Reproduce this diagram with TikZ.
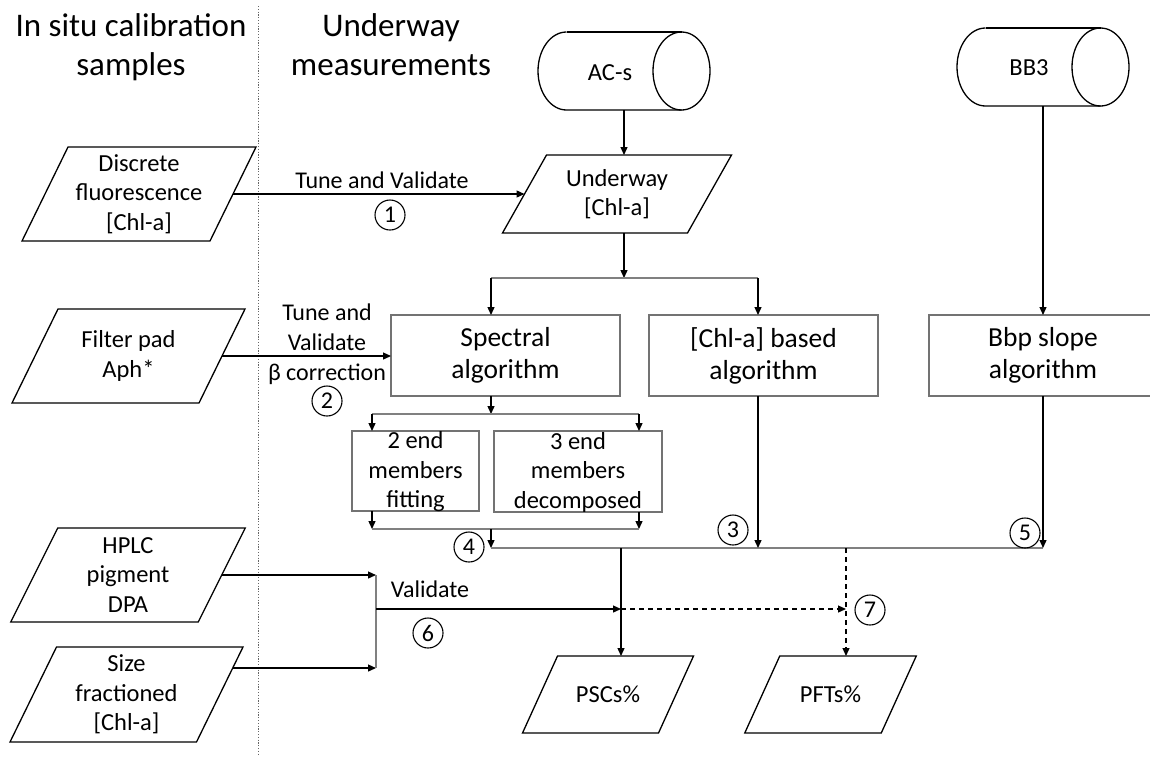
\documentclass[tikz,border=0pt]{standalone}
\usepackage{fontspec}
\setmainfont{Carlito}
\usetikzlibrary{arrows.meta,calc}
\newcommand\pgout[2]{\draw[shp] ([xshift=-#2/2]#1.south west) -- ([xshift=-#2/2]#1.south east) -- ([xshift=#2/2]#1.north east) -- ([xshift=#2/2]#1.north west) -- cycle;}
\newcommand\cylout[1]{%
  \draw[shp] ([xshift=28.5]#1.north west) arc[start angle=90,end angle=270,x radius=28.5pt,y radius=39pt] -- ([xshift=-28.5]#1.south east);
  \draw[shp] ([xshift=28.5]#1.north west) -- ([xshift=-28.5]#1.north east);
  \draw[shp] ([xshift=-28.5]#1.east) ellipse[x radius=28.5pt,y radius=39pt];}
\begin{document}
\begin{tikzpicture}[x=1pt,y=-1pt,
  every node/.style={inner sep=0pt,outer sep=0pt},
  txt/.style={font=\fontsize{24.5}{29.5}\selectfont,align=center},
  btxt/.style={font=\fontsize{27.5}{32}\selectfont,align=center},
  ttl/.style={font=\fontsize{33}{39}\selectfont,align=center},
  lbl/.style={font=\fontsize{24}{30}\selectfont,align=center},
  num/.style={draw,circle,line width=1.1pt,minimum size=30pt,font=\fontsize{24}{24}\selectfont},
  shp/.style={line width=1.3pt,line join=miter},
  abox/.style={draw=black!55,line width=1.3pt,rectangle},
  arr/.style={line width=1.3pt,-{Triangle[length=8pt,width=7pt]}},
  gline/.style={line width=1.2pt,draw=black!50},
  dsh/.style={arr,dash pattern=on 5pt off 4pt},
]
\useasboundingbox (0,0) rectangle (1150,756);
\fill[white] (0,0) rectangle (1150,756);
\clip (0,0) rectangle (1150,756);

% divider
\draw[black!60,line width=1pt,dash pattern=on 1.2pt off 1.6pt] (258,6) -- (258,756);

% titles
\node[ttl] (t1) at (131,47) {In situ calibration\\samples};
\node[ttl] (t2) at (391,45) {Underway\\measurements};

% cylinders
\node[minimum width=172,minimum height=78] (acs) at (624,71) {};
\node[txt] (acst) at (610,73) {AC-s};
\cylout{acs}
\node[minimum width=172,minimum height=78] (bb3) at (1043,67) {};
\node[txt] (bb3t) at (1029,68) {BB3};
\cylout{bb3}

% parallelograms
\node[txt,minimum width=188,minimum height=94] (disc) at (139,194) {Discrete\\fluorescence\\{}[Chl-a]};
\pgout{disc}{46}
\node[txt,minimum width=187,minimum height=94] (filt) at (128.5,356) {Filter pad\\Aph*};
\pgout{filt}{46}
\node[txt,minimum width=187.5,minimum height=94] (hplc) at (128,575) {HPLC\\pigment\\DPA};
\pgout{hplc}{47}
\node[txt,minimum width=186.5,minimum height=95] (size) at (126.5,694.5) {Size\\fractioned\\{}[Chl-a]};
\pgout{size}{46.5}
\node[txt,minimum width=185,minimum height=78] (uw) at (617,194) {Underway\\{}[Chl-a]};
\pgout{uw}{44}
\node[txt,minimum width=136,minimum height=77] (psc) at (608,694.5) {PSCs\%};
\pgout{psc}{35}
\node[txt,minimum width=136.5,minimum height=77] (pft) at (830.5,694.5) {PFTs\%};
\pgout{pft}{35}

% boxes
\node[abox,btxt,minimum width=229,minimum height=81] (spec) at (505.5,355.5) {Spectral\\algorithm};
\node[abox,btxt,minimum width=229,minimum height=81] (chl) at (763.5,355.5) {[Chl-a] based\\algorithm};
\node[abox,btxt,minimum width=228,minimum height=81] (bbp) at (1043,355.5) {Bbp slope\\algorithm};
\node[abox,minimum width=127,minimum height=80] (b2) at (415.5,471) {};
\node[txt] (b2t) at (415.5,472) {2 end\\members\\fitting};
\node[abox,minimum width=168,minimum height=81] (b3) at (578,471.5) {};
\node[txt] (b3t) at (578,472) {3 end\\members\\decomposed};

% coordinates
\coordinate (sp1) at (624,278);
\coordinate (sp1l) at (491,278);
\coordinate (sp1r) at (758,278);
\coordinate (sp2) at (491,414);
\coordinate (sp2l) at (372,414);
\coordinate (sp2r) at (639,414);
\coordinate (m1l) at (372,529);
\coordinate (m1r) at (639,529);
\coordinate (m1c) at (491,529);
\coordinate (m2l) at (491,548);
\coordinate (m2r) at (1043,548);
\coordinate (c6) at (621,548);
\coordinate (c7) at (846,548);
\coordinate (v6t) at (376,575);
\coordinate (v6b) at (376,668);
\coordinate (szout) at (233,668);
\coordinate (v6m) at (376,609);
\coordinate (j6) at (621,609);
\coordinate (j7) at (846,609);

% connectors
\draw[arr] (disc.east) -- (disc.east -| uw.west);
\draw[arr] (acs.south) -- (acs.south |- uw.north);
\draw[arr] (acs.south |- uw.south) -- (sp1);
\draw[gline] (sp1l) -- (sp1r);
\draw[arr] (sp1l) -- (sp1l |- spec.north);
\draw[arr] (sp1r) -- (sp1r |- chl.north);
\draw[arr] (bb3.south) -- (bbp.north);
\draw[arr] (filt.east) -- (filt.east -| spec.west);
\draw[arr] (sp1l |- spec.south) -- (sp2);
\draw[gline] (sp2l) -- (sp2r);
\draw[arr] (sp2l) -- (sp2l |- b2.north);
\draw[arr] (sp2r) -- (sp2r |- b3.north);
\draw[arr] (sp2l |- b2.south) -- (m1l);
\draw[arr] (sp2r |- b3.south) -- (m1r);
\draw[gline] (m1l) -- (m1r);
\draw[arr] (m1c) -- (m2l);
\draw[gline] (m2l) -- (m2r);
\draw[arr] (sp1r |- chl.south) -- (sp1r |- m2l);
\draw[arr] (bbp.south) -- (m2r);
\draw[arr] (c6) -- (c6 |- psc.north);
\draw[dsh] (c7) -- (c7 |- pft.north);
\draw[arr] (hplc.east) -- (v6t);
\draw[arr] (szout) -- (v6b);
\draw[gline] (v6t) -- (v6b);
\draw[arr] (v6m) -- (j6);
\draw[dsh] (j6) -- (j7);

% labels
\node[lbl] (l1) at (382,180) {Tune and Validate};
\node[lbl] (l2) at (327,344) {Tune and\\Validate\\β correction};
\node[lbl] (l6) at (430,589) {Validate};

% numbers
\node[num] (n1) at (390,215) {1};
\node[num] (n2) at (327,401) {2};
\node[num] (n3) at (733,530) {3};
\node[num] (n4) at (469,547) {4};
\node[num] (n5) at (1025,533) {5};
\node[num] (n6) at (428,633) {6};
\node[num] (n7) at (870,610) {7};
\end{tikzpicture}
\end{document}
